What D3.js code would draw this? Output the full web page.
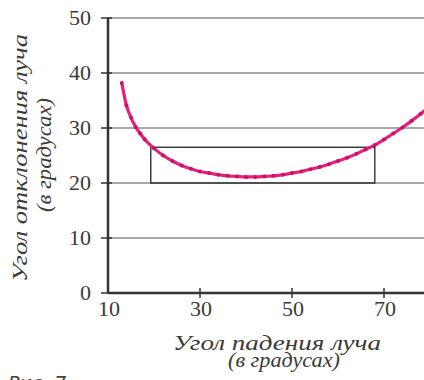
<!DOCTYPE html>
<html>
<head>
<meta charset="utf-8">
<script src="https://cdn.jsdelivr.net/npm/d3@7"></script>
<style>
  body { margin: 0; background: #fff; }
  svg { display: block; }
  svg text { font-family: "Liberation Serif", serif; }
  svg text.fig { font-family: "DejaVu Sans", sans-serif; }
</style>
</head>
<body>
<div id="chart"></div>
<script>
var w = 424;
var h = 380;

// угол падения (градусы) и угол отклонения (градусы)
var incidence = [13, 14, 15, 16, 17, 18, 20, 22, 24, 26, 28, 30, 32, 34, 36, 38, 40, 42, 44, 46,
                 48, 50, 52, 54, 56, 58, 60, 62, 64, 66, 68, 70, 72, 74, 76, 78, 80];
var deviation = [38.2, 34.1, 31.9, 30.2, 29.0, 27.9, 26.3, 25.0, 24.0, 23.2, 22.6, 22.1, 21.8, 21.5, 21.3, 21.2, 21.1, 21.1, 21.2, 21.3,
                 21.5, 21.8, 22.1, 22.5, 22.9, 23.4, 24.0, 24.6, 25.3, 26.1, 26.9, 27.9, 29.0, 30.1, 31.3, 32.6, 34.0];
var xTicks = [10, 30, 50, 70];
var yTicks = [0, 10, 20, 30, 40, 50];
// прямоугольник области минимума
var boxX = [19.3, 68];
var boxY = [20, 26.5];

var svg = d3.select("#chart").append("svg").attr("width", w).attr("height", h);

var x = d3.scaleLinear().domain([10, 80]).range([108, 430]);
var y = d3.scaleLinear().domain([0, 50]).range([293, 18]);

// grid lines
svg.selectAll("line.grid").data(yTicks.filter(function(d){ return d > 0; })).enter().append("line")
    .attr("class", "grid")
    .attr("x1", x(10)).attr("x2", w)
    .attr("y1", function(d){ return y(d); })
    .attr("y2", function(d){ return y(d); })
    .attr("stroke", "#8c8c8c").attr("stroke-width", 1.5);

// box
svg.append("rect")
    .attr("x", x(boxX[0])).attr("y", y(boxY[1]))
    .attr("width", x(boxX[1]) - x(boxX[0]))
    .attr("height", y(boxY[0]) - y(boxY[1]))
    .attr("fill", "none").attr("stroke", "#222").attr("stroke-width", 1.3);

// axes
svg.append("line").attr("x1", x(10)).attr("x2", w).attr("y1", y(0)).attr("y2", y(0))
    .attr("stroke", "#333").attr("stroke-width", 2.5);
svg.append("line").attr("x1", x(10)).attr("x2", x(10)).attr("y1", y(50)).attr("y2", y(0))
    .attr("stroke", "#333").attr("stroke-width", 2.5);

svg.selectAll("line.ytick").data(yTicks).enter().append("line")
    .attr("class", "ytick")
    .attr("x1", x(10) - 7).attr("x2", x(10) + 4)
    .attr("y1", function(d){ return y(d); })
    .attr("y2", function(d){ return y(d); })
    .attr("stroke", "#333").attr("stroke-width", 1.5);

svg.selectAll("line.xtick").data(xTicks.slice(1)).enter().append("line")
    .attr("class", "xtick")
    .attr("x1", function(d){ return x(d); })
    .attr("x2", function(d){ return x(d); })
    .attr("y1", y(0) - 5).attr("y2", y(0) + 5)
    .attr("stroke", "#333").attr("stroke-width", 1.5);

svg.selectAll("text.ylab").data(yTicks).enter().append("text")
    .attr("class", "ylab")
    .text(function(d){ return d; })
    .attr("x", 91)
    .attr("y", function(d){ return y(d) + 7; })
    .attr("text-anchor", "end")
    .attr("font-size", 22).attr("fill", "#3a3a3a");

svg.selectAll("text.xlab").data(xTicks).enter().append("text")
    .attr("class", "xlab")
    .text(function(d){ return d; })
    .attr("x", function(d){ return x(d) + 1; })
    .attr("y", 316)
    .attr("text-anchor", "middle")
    .attr("font-size", 22).attr("fill", "#3a3a3a");

// curve
var line = d3.line()
    .x(function(d, i){ return x(incidence[i]); })
    .y(function(d){ return y(d); })
    .curve(d3.curveMonotoneX);

svg.append("path").datum(deviation)
    .attr("d", line)
    .attr("fill", "none").attr("stroke", "#e5207f").attr("stroke-width", 3.2);

svg.selectAll("circle").data(deviation).enter().append("circle")
    .attr("cx", function(d, i){ return x(incidence[i]); })
    .attr("cy", function(d){ return y(d); })
    .attr("r", 2)
    .attr("fill", "#c8145f");

// titles
function addTitle(t, len, tr) {
    svg.append("text").text(t)
        .attr("class", "title")
        .attr("transform", tr)
        .attr("text-anchor", "middle")
        .attr("textLength", len).attr("lengthAdjust", "spacingAndGlyphs")
        .attr("font-style", "italic")
        .attr("font-size", 21).attr("fill", "#3a3a3a");
}
addTitle("Угол падения луча", 208, "translate(277,350)");
addTitle("(в градусах)", 112, "translate(284,367)");
addTitle("Угол отклонения луча", 248, "translate(27,158) rotate(-90)");
addTitle("(в градусах)", 114, "translate(51,155) rotate(-90)");

svg.append("text").text("Рис. 7")
    .attr("class", "fig")
    .attr("x", 8).attr("y", 390)
    .attr("font-style", "italic")
    .attr("font-size", 19).attr("fill", "#444");
</script>
</body>
</html>
